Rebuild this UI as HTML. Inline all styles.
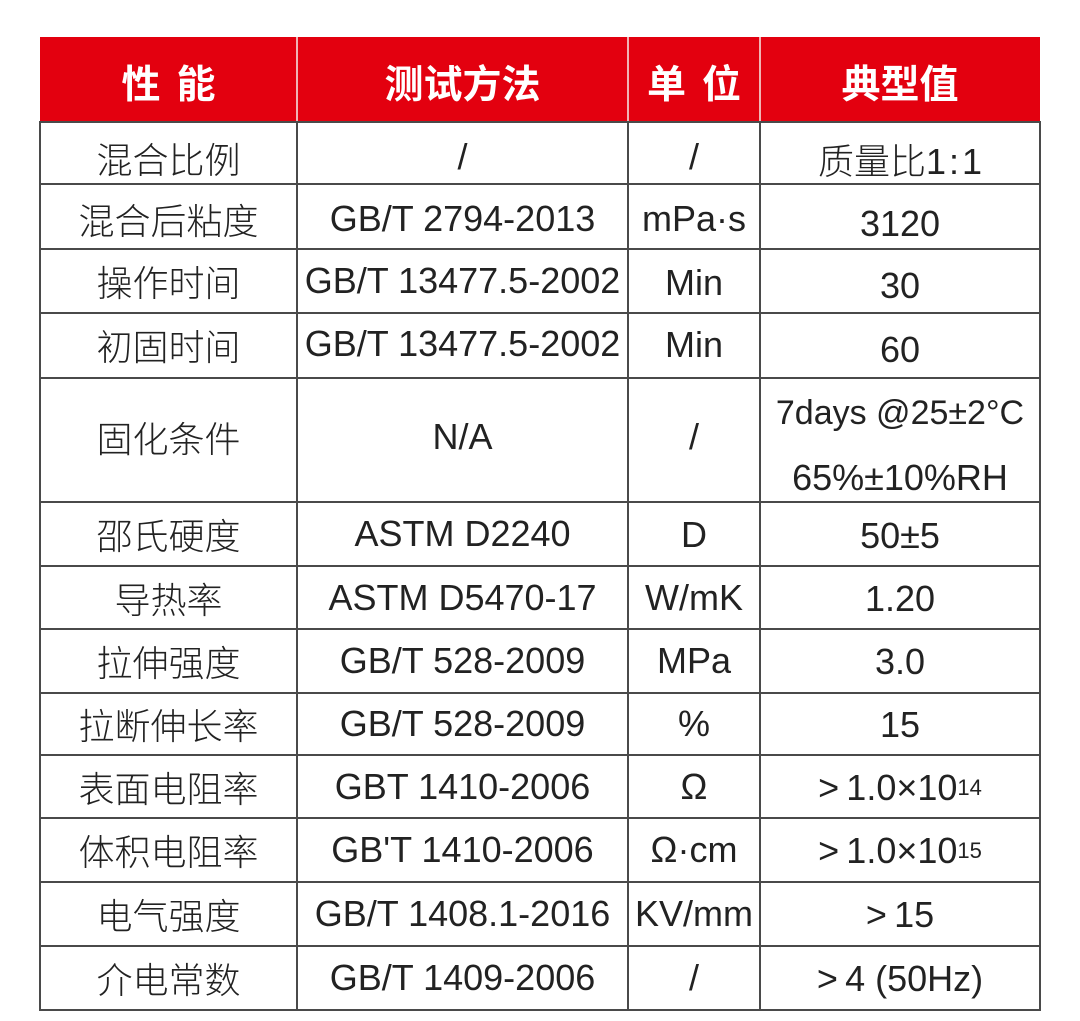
<!DOCTYPE html>
<html>
<head>
<meta charset="utf-8">
<style>
  html,body{margin:0;padding:0;background:#fff;}
  body{width:1080px;height:1021px;position:relative;overflow:hidden;
       font-family:"Liberation Sans","Noto Sans CJK SC",sans-serif;color:#222;}
  .hdr{position:absolute;left:40px;top:37px;width:1000px;height:85px;background:#e3000f;}
  .h{position:absolute;background:#4a4a4a;height:2px;left:39px;width:1002px;}
  .v{position:absolute;background:#4a4a4a;width:2px;top:121px;height:890px;}
  .vh{position:absolute;background:#f0b4b4;width:2px;top:37px;height:85px;}
  .c{position:absolute;display:flex;align-items:center;justify-content:center;
     font-size:36px;line-height:1;white-space:nowrap;font-weight:300;}
  .hc{position:absolute;display:flex;align-items:center;justify-content:center;
      font-family:"Noto Sans CJK SC","Liberation Sans",sans-serif;font-weight:bold;
      font-size:39px;line-height:1;color:#fff;top:40px;height:85px;}
  .gap{display:inline-block;width:16px;}
  sup{font-size:22px;vertical-align:11px;line-height:0;}
</style>
</head>
<body>
<div class="hdr"></div>
<div class="vh" style="left:296px"></div>
<div class="vh" style="left:627px"></div>
<div class="vh" style="left:759px"></div>

<div class="hc" style="left:40px;width:257px">性<span class="gap"></span>能</div>
<div class="hc" style="left:297px;width:331px">测试方法</div>
<div class="hc" style="left:628px;width:132px">单<span class="gap"></span>位</div>
<div class="hc" style="left:760px;width:280px">典型值</div>

<!-- horizontal lines -->
<div class="h" style="top:121px"></div>
<div class="h" style="top:183px"></div>
<div class="h" style="top:248px"></div>
<div class="h" style="top:312px"></div>
<div class="h" style="top:377px"></div>
<div class="h" style="top:501px"></div>
<div class="h" style="top:565px"></div>
<div class="h" style="top:628px"></div>
<div class="h" style="top:692px"></div>
<div class="h" style="top:754px"></div>
<div class="h" style="top:817px"></div>
<div class="h" style="top:881px"></div>
<div class="h" style="top:945px"></div>
<div class="h" style="top:1009px"></div>
<!-- vertical lines -->
<div class="v" style="left:39px"></div>
<div class="v" style="left:296px"></div>
<div class="v" style="left:627px"></div>
<div class="v" style="left:759px"></div>
<div class="v" style="left:1039px"></div>

<!-- Row 1 -->
<div class="c" style="left:40px;width:257px;top:130px;height:62px">混合比例</div>
<div class="c" style="left:297px;width:331px;top:126px;height:62px">/</div>
<div class="c" style="left:628px;width:132px;top:126px;height:62px">/</div>
<div class="c" style="left:760px;width:280px;top:131px;height:62px">质量比1&#8202;:&#8202;1</div>
<!-- Row 2 -->
<div class="c" style="left:40px;width:257px;top:189px;height:65px">混合后粘度</div>
<div class="c" style="left:297px;width:331px;top:186px;height:65px">GB/T 2794-2013</div>
<div class="c" style="left:628px;width:132px;top:186px;height:65px">mPa·s</div>
<div class="c" style="left:760px;width:280px;top:191px;height:65px">3120</div>
<!-- Row 3 -->
<div class="c" style="left:40px;width:257px;top:252px;height:64px">操作时间</div>
<div class="c" style="left:297px;width:331px;top:249px;height:64px">GB/T 13477.5-2002</div>
<div class="c" style="left:628px;width:132px;top:251px;height:64px">Min</div>
<div class="c" style="left:760px;width:280px;top:254px;height:64px">30</div>
<!-- Row 4 -->
<div class="c" style="left:40px;width:257px;top:315px;height:65px">初固时间</div>
<div class="c" style="left:297px;width:331px;top:311px;height:65px">GB/T 13477.5-2002</div>
<div class="c" style="left:628px;width:132px;top:312px;height:65px">Min</div>
<div class="c" style="left:760px;width:280px;top:317px;height:65px">60</div>
<!-- Row 5 -->
<div class="c" style="left:40px;width:257px;top:378px;height:124px">固化条件</div>
<div class="c" style="left:297px;width:331px;top:375px;height:124px">N/A</div>
<div class="c" style="left:628px;width:132px;top:375px;height:124px">/</div>
<div class="c" style="left:760px;width:280px;top:393px;height:40px;font-size:34px">7days @25±2°C</div>
<div class="c" style="left:760px;width:280px;top:458px;height:40px">65%±10%RH</div>
<!-- Row 6 -->
<div class="c" style="left:40px;width:257px;top:505px;height:64px">邵氏硬度</div>
<div class="c" style="left:297px;width:331px;top:502px;height:64px">ASTM D2240</div>
<div class="c" style="left:628px;width:132px;top:503px;height:64px">D</div>
<div class="c" style="left:760px;width:280px;top:504px;height:64px">50±5</div>
<!-- Row 7 -->
<div class="c" style="left:40px;width:257px;top:569px;height:63px">导热率</div>
<div class="c" style="left:297px;width:331px;top:566px;height:63px">ASTM D5470-17</div>
<div class="c" style="left:628px;width:132px;top:566px;height:63px">W/mK</div>
<div class="c" style="left:760px;width:280px;top:567px;height:63px">1.20</div>
<!-- Row 8 -->
<div class="c" style="left:40px;width:257px;top:632px;height:64px">拉伸强度</div>
<div class="c" style="left:297px;width:331px;top:629px;height:64px">GB/T 528-2009</div>
<div class="c" style="left:628px;width:132px;top:629px;height:64px">MPa</div>
<div class="c" style="left:760px;width:280px;top:630px;height:64px">3.0</div>
<!-- Row 9 -->
<div class="c" style="left:40px;width:257px;top:696px;height:62px">拉断伸长率</div>
<div class="c" style="left:297px;width:331px;top:693px;height:62px">GB/T 528-2009</div>
<div class="c" style="left:628px;width:132px;top:693px;height:62px">%</div>
<div class="c" style="left:760px;width:280px;top:694px;height:62px">15</div>
<!-- Row 10 -->
<div class="c" style="left:40px;width:257px;top:758px;height:63px">表面电阻率</div>
<div class="c" style="left:297px;width:331px;top:755px;height:63px">GBT 1410-2006</div>
<div class="c" style="left:628px;width:132px;top:755px;height:63px">Ω</div>
<div class="c" style="left:760px;width:280px;top:756px;height:63px">&gt;&#8201;1.0×10<sup>14</sup></div>
<!-- Row 11 -->
<div class="c" style="left:40px;width:257px;top:821px;height:64px">体积电阻率</div>
<div class="c" style="left:297px;width:331px;top:818px;height:64px">GB'T 1410-2006</div>
<div class="c" style="left:628px;width:132px;top:818px;height:64px">Ω·cm</div>
<div class="c" style="left:760px;width:280px;top:819px;height:64px">&gt;&#8201;1.0×10<sup>15</sup></div>
<!-- Row 12 -->
<div class="c" style="left:40px;width:257px;top:885px;height:64px">电气强度</div>
<div class="c" style="left:297px;width:331px;top:882px;height:64px">GB/T 1408.1-2016</div>
<div class="c" style="left:628px;width:132px;top:882px;height:64px">KV/mm</div>
<div class="c" style="left:760px;width:280px;top:883px;height:64px">&gt;&#8201;15</div>
<!-- Row 13 -->
<div class="c" style="left:40px;width:257px;top:949px;height:64px">介电常数</div>
<div class="c" style="left:297px;width:331px;top:946px;height:64px">GB/T 1409-2006</div>
<div class="c" style="left:628px;width:132px;top:946px;height:64px">/</div>
<div class="c" style="left:760px;width:280px;top:947px;height:64px">&gt;&#8201;4 (50Hz)</div>
</body>
</html>
